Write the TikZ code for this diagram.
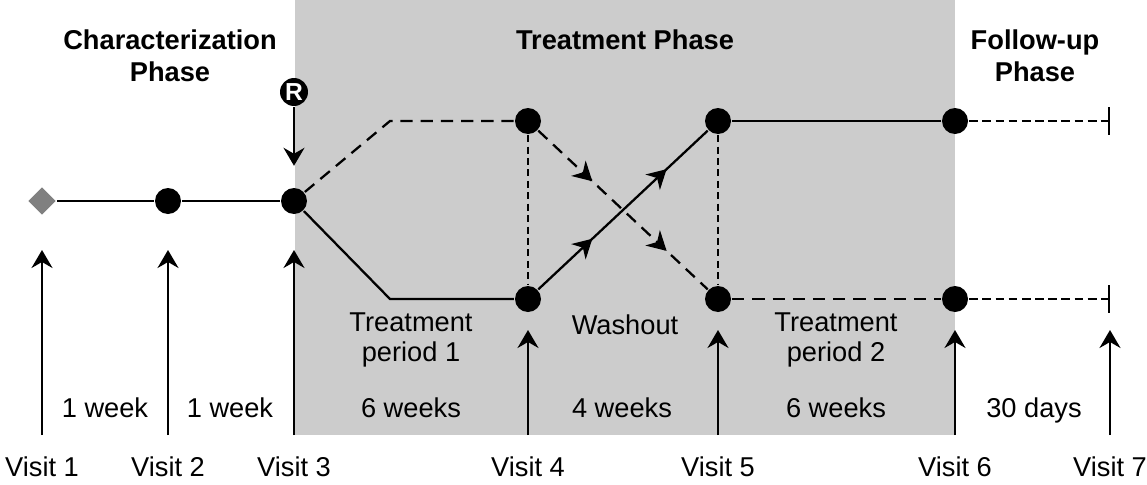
\documentclass[tikz,border=0pt]{standalone}
\usepackage{fontspec}
\setmainfont{Liberation Sans}
\usetikzlibrary{arrows.meta,decorations.markings,shapes.geometric}

\definecolor{phasegray}{HTML}{CCCCCC}
\definecolor{startgray}{HTML}{808080}

\begin{document}
\begin{tikzpicture}[x=0.02cm, y=-0.02cm, line width=1.3pt,
  font=\fontsize{15.5}{17.5}\selectfont,
  every node/.style={text height=1.6ex, text depth=0.3ex},
  dot/.style={circle, fill=black, inner sep=0pt, minimum size=0.52cm},
  tip/.style={-{Stealth[length=0.36cm,width=0.42cm,inset=0.12cm]}},
  longdash/.style={dash pattern=on 7pt off 4.5pt},
  shortdash/.style={dash pattern=on 4pt off 2.5pt},
  followdash/.style={dash pattern=on 5pt off 2.5pt},
  midtips/.style={postaction={decorate}, decoration={markings,
    mark=at position 0.32 with {\arrow{Stealth[length=0.38cm,width=0.42cm,inset=0.12cm]}},
    mark=at position 0.76 with {\arrow{Stealth[length=0.38cm,width=0.42cm,inset=0.12cm]}}}},
  head/.style={font=\bfseries\fontsize{15.5}{18}\selectfont, align=center}]

  \useasboundingbox (0,0) rectangle (1147,484);

  % treatment phase background
  \fill[phasegray] (295,0) rectangle (955,435);

  % visits on the time line
  \node[diamond, fill=startgray, inner sep=0pt, minimum size=0.56cm,
    text height=, text depth=] (v1) at (42,201) {};
  \node[dot] (v2) at (168,201) {};
  \node[dot] (v3) at (294,201) {};
  \coordinate (up) at (390,121);
  \coordinate (lo) at (390,299);
  \node[dot] (a4) at (528,121) {};
  \node[dot] (b4) at (528,299) {};
  \node[dot] (a5) at (718,121) {};
  \node[dot] (b5) at (718,299) {};
  \node[dot] (a6) at (955,121) {};
  \node[dot] (b6) at (955,299) {};
  \coordinate (a7) at (1110,121);
  \coordinate (b7) at (1110,299);

  % randomisation
  \node[circle, fill=black, text=white, inner sep=0pt, minimum size=0.56cm,
    text height=, text depth=, font=\bfseries\fontsize{14}{14}\selectfont] (rnd) at (294,92) {R};
  \draw[tip, shorten >=12pt] (rnd) -- (v3);

  % arms
  \draw (v1) -- (v2) -- (v3);
  \draw[longdash] (v3) -- (up) -- (a4);
  \draw (v3) -- (lo) -- (b4);
  \draw[shortdash] (a4) -- (b4);
  \draw[shortdash] (a5) -- (b5);
  \draw[longdash, midtips] (a4) -- (b5);
  \draw[midtips] (b4) -- (a5);
  \draw (a5) -- (a6);
  \draw[longdash] (b5) -- (b6);
  \draw[followdash, -{Bar[width=0.56cm]}] (a6) -- (a7);
  \draw[followdash, -{Bar[width=0.56cm]}] (b6) -- (b7);

  % visit arrows
  \foreach \n/\x/\y in {1/42/250, 2/168/250, 3/294/250, 4/528/330,
                        5/718/330, 6/955/330, 7/1110/330} {
    \node (vis\n) at (\x,470) {Visit \n};
    \coordinate (foot\n) at (\x,435);
    \coordinate (top\n) at (\x,\y);
    \draw[tip] (foot\n) -- (top\n);
  }

  % durations
  \node (d12) at (105,411) {1 week};
  \node (d23) at (230,411) {1 week};
  \node (d34) at (411,411) {6 weeks};
  \node (d45) at (622,411) {4 weeks};
  \node (d56) at (836,411) {6 weeks};
  \node (d67) at (1034,411) {30 days};

  % periods
  \node[align=center, text height=, text depth=] (per1) at (411,340) {Treatment\\period 1};
  \node (wash) at (625,328) {Washout};
  \node[align=center, text height=, text depth=] (per2) at (836,340) {Treatment\\period 2};

  % phases
  \node[head, text height=, text depth=] (charph) at (170,56) {Characterization\\Phase};
  \node[head] (treatph) at (625,43) {Treatment Phase};
  \node[head, text height=, text depth=] (follph) at (1035,56) {Follow-up\\Phase};
\end{tikzpicture}
\end{document}
